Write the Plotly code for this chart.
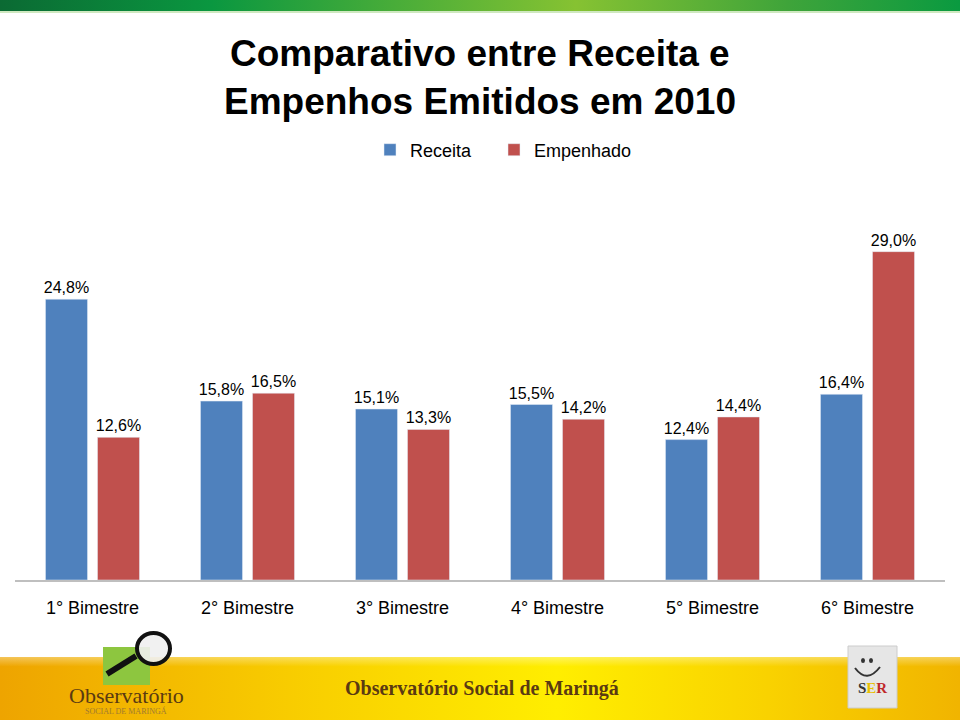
import base64
import plotly.graph_objects as go

# ---------------- data ----------------
categories = ["1° Bimestre", "2° Bimestre", "3° Bimestre", "4° Bimestre", "5° Bimestre", "6° Bimestre"]
receita = [24.8, 15.8, 15.1, 15.5, 12.4, 16.4]
empenhado = [12.6, 16.5, 13.3, 14.2, 14.4, 29.0]
series_names = ["Receita", "Empenhado"]
title_lines = ["Comparativo entre Receita e", "Empenhos Emitidos em 2010"]
footer_text = "Observatório Social de Maringá"

# ---------------- geometry helpers ----------------
W, H = 960, 720
PL, PR = 15, 945          # plot area left/right in px
PB, PT = 580, 229         # plot area bottom/top in px
YMAX = 31.0


def px(x):
    return (x - PL) / (PR - PL)


def py(y):
    return (PB - y) / (PB - PT)


def svg_uri(svg):
    return "data:image/svg+xml;base64," + base64.b64encode(svg.encode("utf-8")).decode("ascii")


top_band_svg = (
    '<svg xmlns="http://www.w3.org/2000/svg" width="960" height="13" preserveAspectRatio="none">'
    '<defs><linearGradient id="g" x1="0" y1="0" x2="1" y2="0">'
    '<stop offset="0" stop-color="#0B6A33"/><stop offset="0.22" stop-color="#0A9740"/>'
    '<stop offset="0.6" stop-color="#86C232"/><stop offset="0.82" stop-color="#3FA43A"/>'
    '<stop offset="1" stop-color="#0A9A40"/></linearGradient></defs>'
    '<rect x="0" y="0" width="960" height="11" fill="url(#g)"/>'
    '<rect x="0" y="11" width="960" height="2" fill="#CFE8C0"/></svg>'
)

footer_svg = (
    '<svg xmlns="http://www.w3.org/2000/svg" width="960" height="64" preserveAspectRatio="none">'
    '<defs><linearGradient id="f" x1="0" y1="0" x2="1" y2="0">'
    '<stop offset="0" stop-color="#EEA400"/><stop offset="0.3" stop-color="#F8CC00"/>'
    '<stop offset="0.58" stop-color="#FFEE00"/><stop offset="0.8" stop-color="#F9D200"/>'
    '<stop offset="1" stop-color="#F1B400"/></linearGradient>'
    '<linearGradient id="v" x1="0" y1="0" x2="0" y2="1">'
    '<stop offset="0" stop-color="#FFFFFF" stop-opacity="0.35"/>'
    '<stop offset="0.15" stop-color="#FFFFFF" stop-opacity="0"/></linearGradient></defs>'
    '<rect x="0" y="0" width="960" height="64" fill="url(#f)"/>'
    '<rect x="0" y="0" width="960" height="64" fill="url(#v)"/></svg>'
)

fig = go.Figure()
fig.add_trace(go.Bar(
    x=categories, y=receita, name=series_names[0], marker_color="#4F81BD",
    texttemplate="%{y:.1f}%", textposition="outside", cliponaxis=False, constraintext="none",
    textfont=dict(size=16, color="#000000"), legend="legend",
))
fig.add_trace(go.Bar(
    x=categories, y=empenhado, name=series_names[1], marker_color="#C0504D",
    texttemplate="%{y:.1f}%", textposition="outside", cliponaxis=False, constraintext="none",
    textfont=dict(size=16, color="#000000"), legend="legend2",
))

annotations = [
    dict(text="<b>%s</b>" % title_lines[0], x=px(480), y=py(53), xref="paper", yref="paper",
         showarrow=False, font=dict(size=37, color="#000000"), xanchor="center", yanchor="middle"),
    dict(text="<b>%s</b>" % title_lines[1], x=px(480), y=py(101), xref="paper", yref="paper",
         showarrow=False, font=dict(size=37, color="#000000"), xanchor="center", yanchor="middle"),
    dict(text="<b>%s</b>" % footer_text, x=px(482), y=py(688), xref="paper", yref="paper",
         showarrow=False, font=dict(size=20, color="#5A3A12", family="Liberation Serif"),
         xanchor="center", yanchor="middle"),
    dict(text="Observatório", x=px(126), y=py(695), xref="paper", yref="paper",
         showarrow=False, font=dict(size=22, color="#5A3A12", family="Liberation Serif"),
         xanchor="center", yanchor="middle"),
    dict(text="SOCIAL DE MARINGÁ", x=px(126), y=py(711), xref="paper", yref="paper",
         showarrow=False, font=dict(size=8, color="#A07A30", family="Liberation Serif"),
         xanchor="center", yanchor="middle"),
    dict(text='<b><span style="color:#333333">S</span><span style="color:#E8C000">E</span>'
              '<span style="color:#C0282A">R</span></b>',
         x=px(872), y=py(688), xref="paper", yref="paper", showarrow=False,
         font=dict(size=15, family="Liberation Serif"), xanchor="center", yanchor="middle"),
]

shapes = [
    # left logo: green square
    dict(type="rect", xref="paper", yref="paper", x0=px(103), x1=px(150), y0=py(685), y1=py(647),
         fillcolor="#8DC63F", line=dict(width=0), layer="above"),
    # magnifying glass handle
    dict(type="line", xref="paper", yref="paper", x0=px(107), y0=py(674), x1=px(136), y1=py(656),
         line=dict(color="#111111", width=6), layer="above"),
    # magnifying glass lens
    dict(type="circle", xref="paper", yref="paper", x0=px(137), x1=px(170), y0=py(664), y1=py(633),
         fillcolor="rgba(240,240,240,0.9)", line=dict(color="#111111", width=4), layer="above"),
    # right logo: stamp
    dict(type="rect", xref="paper", yref="paper", x0=px(848), x1=px(897), y0=py(708), y1=py(646),
         fillcolor="#E6E6E6", line=dict(color="#CCCCCC", width=1), layer="above"),
    dict(type="circle", xref="paper", yref="paper", x0=px(861), x1=px(865), y0=py(663), y1=py(658),
         fillcolor="#333333", line=dict(width=0), layer="above"),
    dict(type="circle", xref="paper", yref="paper", x0=px(869), x1=px(873), y0=py(663), y1=py(658),
         fillcolor="#333333", line=dict(width=0), layer="above"),
    dict(type="path", xref="paper", yref="paper",
         path="M %f %f Q %f %f %f %f" % (px(855), py(668), px(867), py(684), px(880), py(667)),
         line=dict(color="#333333", width=2), layer="above"),
]

images = [
    dict(source=svg_uri(top_band_svg), xref="paper", yref="paper", x=px(0), y=py(0),
         sizex=px(960) - px(0), sizey=py(0) - py(13), sizing="stretch",
         xanchor="left", yanchor="top", layer="below"),
    dict(source=svg_uri(footer_svg), xref="paper", yref="paper", x=px(0), y=py(657),
         sizex=px(960) - px(0), sizey=py(657) - py(721), sizing="stretch",
         xanchor="left", yanchor="top", layer="below"),
]

legend_common = dict(orientation="h", xref="container", yref="container",
                     y=1 - 150 / H, xanchor="left", yanchor="middle",
                     font=dict(size=18), itemwidth=30, bgcolor="rgba(0,0,0,0)")

fig.update_layout(
    width=W, height=H,
    margin=dict(l=PL, r=W - PR, t=PT, b=H - PB, pad=0),
    paper_bgcolor="#FFFFFF", plot_bgcolor="rgba(0,0,0,0)",
    font=dict(family="Liberation Sans, Arial, sans-serif", color="#000000"),
    separators=",.",
    barmode="group", bargap=0.329, bargroupgap=0.192,
    showlegend=True,
    legend=dict(x=(384 - 14) / W, **legend_common),
    legend2=dict(x=(508 - 14) / W, **legend_common),
    xaxis=dict(showline=True, linecolor="#BFBFBF", linewidth=2, showgrid=False,
               ticks="", tickfont=dict(size=18, color="#000000"), ticklabelstandoff=10,
               fixedrange=True),
    yaxis=dict(range=[0, YMAX], visible=False, showgrid=False, zeroline=False, fixedrange=True),
    annotations=annotations, shapes=shapes, images=images,
)

fig.write_html(
    "out.html",
    config={"displayModeBar": False},
    post_script="document.body.style.margin='0px';document.body.style.overflow='hidden';",
)
